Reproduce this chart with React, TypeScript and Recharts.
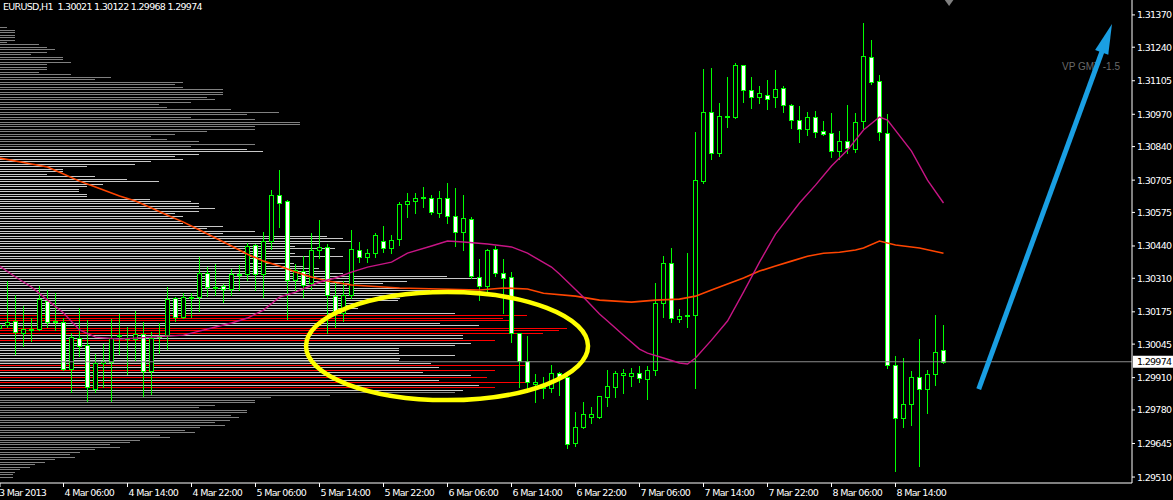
import React from "react";
import {
  Bar,
  BarChart,
  ComposedChart,
  Line,
  ReferenceDot,
  ReferenceLine,
  XAxis,
  YAxis,
} from "recharts";

const W = 1173;
const H = 500;
const AXIS_W = 41;
const AXIS_H = 17;
const PRICE_MIN = 1.29486;
const PRICE_MAX = 1.3143;
const BAR_MIN = 0.0625;
const BAR_MAX = 141.5625;

const FONT = '"DejaVu Sans", sans-serif';
const GREEN = "#00ff00";
const ARROW_BLUE = "#1a9fe3";

const symbolInfo = "EURUSD,H1  1.30021 1.30122 1.29968 1.29974";
const profileName = "VP GMT -1.5";
const bid = 1.29974;

// hourly bars, index 0 = 3 Mar 22:00
const opens = [
  1.30109, 1.30122, 1.30138, 1.30089, 1.30103, 1.30105, 1.30218, 1.30138, 1.30134, 1.29944,
  1.30069, 1.30041, 1.29864, 1.29969, 1.29973, 1.3008, 1.30068, 1.30065, 1.30085, 1.29936,
  1.30076, 1.30081, 1.3023, 1.30154, 1.30232, 1.30234, 1.30331, 1.30274, 1.30279, 1.30266,
  1.30326, 1.30327, 1.30444, 1.30327, 1.3046, 1.30645, 1.30621, 1.30303, 1.30339, 1.30291,
  1.30423, 1.30436, 1.30238, 1.3017, 1.30242, 1.30423, 1.30395, 1.30411, 1.3046, 1.30432,
  1.30468, 1.30609, 1.30621, 1.30636, 1.30633, 1.30572, 1.30633, 1.3056, 1.30496, 1.30548,
  1.30315, 1.30279, 1.30428, 1.30331, 1.30315, 1.30089, 1.29977, 1.29884, 1.29871, 1.29868,
  1.29928, 1.29912, 1.29646, 1.29711, 1.29751, 1.29751, 1.29832, 1.29872, 1.2992, 1.29916,
  1.29928, 1.29904, 1.2994, 1.3021, 1.30371, 1.30146, 1.30161, 1.30162, 1.30701, 1.30979,
  1.30814, 1.30962, 1.30959, 1.31168, 1.31068, 1.31039, 1.31047, 1.31039, 1.31076, 1.31007,
  1.30947, 1.30911, 1.30959, 1.30903, 1.30895, 1.30822, 1.30862, 1.3083, 1.30943, 1.31201,
  1.31104, 1.30895, 1.29961, 1.29747, 1.29803, 1.29912, 1.29864, 1.29924, 1.30021,
];
const highs = [
  1.3013, 1.30299, 1.30242, 1.30198, 1.3015, 1.30279, 1.30262, 1.3025, 1.3015, 1.30089,
  1.3019, 1.30142, 1.30005, 1.30045, 1.30146, 1.30166, 1.30113, 1.30178, 1.30134, 1.30093,
  1.3013, 1.30275, 1.30234, 1.3025, 1.3025, 1.30395, 1.30355, 1.30367, 1.30287, 1.30347,
  1.30363, 1.30452, 1.30448, 1.30496, 1.30665, 1.30746, 1.30625, 1.30367, 1.30399, 1.30492,
  1.30544, 1.30448, 1.30291, 1.30299, 1.30504, 1.30456, 1.30428, 1.30492, 1.3052, 1.30484,
  1.30617, 1.30653, 1.30653, 1.30677, 1.30645, 1.30661, 1.30693, 1.30673, 1.30645, 1.30556,
  1.30387, 1.30428, 1.3044, 1.30387, 1.30335, 1.30091, 1.30077, 1.29924, 1.29912, 1.2996,
  1.29932, 1.29916, 1.29771, 1.29812, 1.29791, 1.29838, 1.2994, 1.29936, 1.29944, 1.29948,
  1.29956, 1.29956, 1.30291, 1.30399, 1.30432, 1.30186, 1.30411, 1.30899, 1.31152, 1.31156,
  1.31015, 1.3112, 1.31176, 1.3117, 1.3112, 1.31084, 1.31108, 1.31148, 1.31084, 1.31011,
  1.31003, 1.30979, 1.30983, 1.30943, 1.30975, 1.30903, 1.31007, 1.30975, 1.31337, 1.31269,
  1.31128, 1.30971, 1.29997, 1.29989, 1.29936, 1.30065, 1.2994, 1.30162, 1.30122,
];
const lows = [
  1.30101, 1.30113, 1.30005, 1.30037, 1.30057, 1.30101, 1.30113, 1.30101, 1.2994, 1.29852,
  1.29997, 1.29816, 1.29852, 1.29872, 1.29816, 1.30005, 1.29924, 1.29981, 1.29836, 1.29844,
  1.30009, 1.30025, 1.30138, 1.3015, 1.30154, 1.30178, 1.30238, 1.30242, 1.30214, 1.30242,
  1.30262, 1.30303, 1.30262, 1.30234, 1.30428, 1.30516, 1.30146, 1.30262, 1.30234, 1.30266,
  1.30391, 1.30089, 1.30113, 1.30138, 1.3023, 1.30375, 1.30375, 1.30395, 1.30415, 1.30411,
  1.30444, 1.30556, 1.30572, 1.30597, 1.30568, 1.30556, 1.30532, 1.3044, 1.30423, 1.30311,
  1.30222, 1.3025, 1.30319, 1.3017, 1.30053, 1.29872, 1.29868, 1.29812, 1.29828, 1.29852,
  1.2984, 1.29626, 1.29634, 1.29709, 1.29727, 1.29749, 1.29795, 1.29832, 1.29848, 1.29876,
  1.29892, 1.29824, 1.2992, 1.30154, 1.30134, 1.30134, 1.30113, 1.29868, 1.30693, 1.3079,
  1.30802, 1.30919, 1.30957, 1.31019, 1.30995, 1.31015, 1.30991, 1.30999, 1.30979, 1.30915,
  1.30858, 1.30886, 1.30878, 1.30886, 1.30798, 1.3079, 1.30814, 1.30818, 1.30915, 1.31092,
  1.30866, 1.29948, 1.29534, 1.29711, 1.29719, 1.29554, 1.29767, 1.2988, 1.29968,
];
const closes = [
  1.30122, 1.30134, 1.30093, 1.30105, 1.30107, 1.30226, 1.30134, 1.30134, 1.29944, 1.30073,
  1.30037, 1.29872, 1.29969, 1.29977, 1.30069, 1.30082, 1.3007, 1.30085, 1.29936, 1.30069,
  1.30078, 1.30226, 1.30154, 1.30234, 1.30236, 1.30331, 1.30275, 1.30276, 1.30266, 1.30327,
  1.30328, 1.3044, 1.30327, 1.3046, 1.30645, 1.30613, 1.30303, 1.30343, 1.30283, 1.30423,
  1.30436, 1.30242, 1.30178, 1.30242, 1.30428, 1.30395, 1.30411, 1.30484, 1.30432, 1.30464,
  1.30609, 1.30621, 1.30633, 1.30638, 1.30576, 1.30633, 1.3056, 1.30496, 1.30552, 1.30319,
  1.30279, 1.30423, 1.30331, 1.30311, 1.30089, 1.29977, 1.29892, 1.29892, 1.29873, 1.29928,
  1.29912, 1.29642, 1.29711, 1.29763, 1.29763, 1.29836, 1.29876, 1.29928, 1.29928, 1.29928,
  1.29908, 1.2994, 1.3021, 1.30371, 1.3015, 1.30158, 1.30163, 1.30705, 1.30979, 1.30814,
  1.30963, 1.30964, 1.31168, 1.31068, 1.31039, 1.31056, 1.31031, 1.31072, 1.31007, 1.30947,
  1.30911, 1.30959, 1.30899, 1.30891, 1.30822, 1.30862, 1.30834, 1.30939, 1.31205, 1.311,
  1.30899, 1.29961, 1.29747, 1.29803, 1.29912, 1.29864, 1.29924, 1.30013, 1.29974,
];

// [bar index, value]
const fastMa: [number, number][] = [
  [0, 1.30359], [2, 1.30315], [4, 1.30275], [6, 1.30222], [8, 1.3017], [10, 1.30102],
  [12, 1.30073], [15, 1.30065], [19, 1.30073], [23, 1.30081], [27, 1.30114], [29, 1.3013],
  [31, 1.3015], [33, 1.30182], [35, 1.30234], [37, 1.30254], [40, 1.30295], [42, 1.30311],
  [44, 1.30335], [46, 1.30355], [49, 1.30375], [51, 1.30411], [54, 1.3044], [56, 1.3046],
  [58, 1.30456], [61, 1.30448], [64, 1.30436], [66, 1.30411], [69, 1.30355], [70, 1.30327],
  [73, 1.30234], [75, 1.30166], [76, 1.30138], [78, 1.30081], [80, 1.30025], [81, 1.30009],
  [83, 1.29989], [85, 1.29969], [86, 1.29965], [87, 1.29989], [89, 1.30061], [91, 1.30138],
  [93, 1.30254], [95, 1.30375], [97, 1.30488], [100, 1.30613], [102, 1.30685], [104, 1.30762],
  [106, 1.30826], [108, 1.30907], [110, 1.30959], [111, 1.30947], [114, 1.30822], [116, 1.30705],
  [118, 1.30613],
];
const slowMa: [number, number][] = [
  [0, 1.30794], [4, 1.3077], [6, 1.30758], [8, 1.3073], [10, 1.30701], [12, 1.30677],
  [15, 1.30641], [17, 1.30621], [19, 1.30593], [21, 1.30564], [23, 1.30536], [25, 1.30504],
  [27, 1.30472], [29, 1.3044], [31, 1.30407], [33, 1.30379], [35, 1.30359], [37, 1.30335],
  [39, 1.30315], [41, 1.30299], [44, 1.30283], [50, 1.30271], [55, 1.30267], [60, 1.30263],
  [63, 1.30271], [66, 1.30267], [68, 1.3025], [72, 1.30238], [75, 1.30222], [79, 1.30214],
  [82, 1.30222], [85, 1.30226], [87, 1.30238], [89, 1.30263], [91, 1.30287], [93, 1.30311],
  [95, 1.30339], [97, 1.30359], [99, 1.30379], [101, 1.30399], [103, 1.30411], [105, 1.30415],
  [107, 1.30424], [108, 1.30432], [110, 1.3046], [112, 1.30444], [115, 1.30432], [118, 1.30411],
];

const priceTicks = [
  1.3137, 1.3124, 1.31105, 1.3097, 1.3084, 1.30705, 1.30575, 1.3044, 1.3031, 1.30175,
  1.30045, 1.2991, 1.2978, 1.29645, 1.2951,
];
const timeTicks = [BAR_MIN, 8, 16, 24, 32, 40, 48, 56, 64, 72, 80, 88, 96, 104, 112];
const timeLabels = [
  "3 Mar 2013", "4 Mar 06:00", "4 Mar 14:00", "4 Mar 22:00", "5 Mar 06:00", "5 Mar 14:00",
  "5 Mar 22:00", "6 Mar 06:00", "6 Mar 14:00", "6 Mar 22:00", "7 Mar 06:00", "7 Mar 14:00",
  "7 Mar 22:00", "8 Mar 06:00", "8 Mar 14:00",
];

// volume profile, one row per pip from 1.3132 down
const profileTop = 1.3132;
const profileVolumes = [
  7, 15, 15, 15, 15, 15, 7, 39, 47, 55,
  47, 31, 63, 63, 71, 47, 47, 47, 39, 71,
  111, 95, 183, 175, 183, 223, 223, 223, 207, 215,
  191, 159, 167, 231, 279, 247, 191, 255, 300, 300,
  255, 255, 207, 175, 151, 167, 199, 255, 191, 247,
  263, 199, 175, 183, 151, 135, 87, 63, 63, 47,
  95, 127, 159, 103, 87, 79, 79, 87, 87, 150,
  191, 199, 199, 215, 199, 175, 183, 175, 183, 183,
  223, 207, 255, 223, 327, 343, 352, 319, 295, 335,
  287, 295, 343, 287, 247, 294, 303, 319, 327, 343,
  447, 478, 407, 383, 347, 418, 430, 400, 385, 400,
  398, 355, 360, 358, 335, 455, 527, 503, 510, 440,
  479, 567, 559, 543, 463, 463, 495, 471, 455, 399,
  399, 399, 455, 400, 399, 431, 525, 439, 495, 423,
  471, 487, 439, 525, 479, 495, 463, 455, 330, 271,
  255, 255, 215, 199, 247, 247, 231, 239, 230, 215,
  225, 200, 185, 195, 160, 170, 140, 130, 110, 120,
  95, 80, 70, 75, 55, 45, 35, 30, 20, 15,
  13, 13,
];
const redLevels = [
  1.3016, 1.3015, 1.3014, 1.3011, 1.301, 1.3009, 1.3006, 1.2996, 1.2994, 1.2991, 1.2989, 1.2987,
];
const valueAreaHigh = 1.3083;
const valueAreaLow = 1.2986;

const candles = opens.map((open, i) => ({
  i,
  open,
  high: highs[i],
  low: lows[i],
  close: closes[i],
}));
const fastData = fastMa.map(([i, v]) => ({ i, v }));
const slowData = slowMa.map(([i, v]) => ({ i, v }));
const profile = profileVolumes.map((vol, k) => ({
  price: +(profileTop - k * 0.0001).toFixed(4),
  vol,
}));

function profileColor(price: number) {
  if (redLevels.some((r) => Math.abs(r - price) < 1e-6)) return "#ff0000";
  if (price <= valueAreaHigh + 1e-6 && price >= valueAreaLow - 1e-6) return "#c8c8c8";
  return "#808080";
}

const ProfileRow = (props: any) => {
  const { x, y, width, height, payload } = props;
  if (x == null || !payload) return null;
  const yc = Math.floor(y + height / 2);
  return <rect x={x} y={yc} width={Math.max(width, 0)} height={1} fill={profileColor(payload.price)} />;
};

const Candle = (props: any) => {
  const { x, y, width, height, payload } = props;
  if (x == null || !payload) return null;
  const top = Math.min(y, y + height);
  const h = Math.abs(height);
  const { open, high, low, close } = payload;
  const span = high - low;
  const toY = (p: number) => (span > 0 ? top + ((high - p) / span) * h : top);
  const cx = Math.round(x + width / 2 - 0.5) + 0.5;
  const bTop = Math.round(toY(Math.max(open, close))) + 0.5;
  const bBot = Math.round(toY(Math.min(open, close))) + 0.5;
  const bear = close < open;
  return (
    <g>
      <line x1={cx} x2={cx} y1={Math.round(top)} y2={Math.round(top + h) + 1} stroke={GREEN} strokeWidth={1} />
      <rect
        x={cx - 2}
        y={bTop}
        width={4}
        height={Math.max(bBot - bTop, 1)}
        fill={bBot - bTop < 1 ? GREEN : bear ? "#ffffff" : "#000000"}
        stroke={GREEN}
        strokeWidth={1}
      />
    </g>
  );
};

const PriceTick = (props: any) => {
  const { x, y, payload } = props;
  return (
    <text x={x} y={y} dy={3.5} fill="#ffffff" fontSize={9.5} fontFamily={FONT} letterSpacing={-0.7} textAnchor="start">
      {Number(payload.value).toFixed(5)}
    </text>
  );
};

const TimeTick = (props: any) => {
  const { x, y, payload } = props;
  const idx = timeTicks.indexOf(payload.value);
  return (
    <text x={idx === 0 ? x - 1 : x + 1} y={y + 7} fill="#ffffff" fontSize={9.5} fontFamily={FONT} letterSpacing={-0.7} textAnchor="start">
      {timeLabels[idx]}
    </text>
  );
};

const BidTag = (props: any) => {
  const vb = props.viewBox || {};
  const x = (vb.x || 0) + (vb.width || 0) + 1;
  const y = vb.y || 0;
  return (
    <g>
      <rect x={x} y={y - 6} width={W - x} height={12} fill="#ffffff" />
      <text x={x + 4} y={y + 3.5} fill="#000000" fontSize={9.5} fontFamily={FONT} letterSpacing={-0.7}>
        {bid.toFixed(5)}
      </text>
    </g>
  );
};

const Ellipse = (props: any) => (
  <ellipse cx={props.cx} cy={props.cy} rx={141} ry={54} fill="none" stroke="#ffff00" strokeWidth={4.5} />
);

const Marker = (props: any) => (
  <polygon
    points={`${props.cx - 5},${props.cy - 3} ${props.cx + 5},${props.cy - 3} ${props.cx},${props.cy + 4}`}
    fill="#7f7f7f"
  />
);

const Arrow = (props: any) => {
  const { x1, y1, x2, y2 } = props;
  const len = Math.hypot(x2 - x1, y2 - y1) || 1;
  const ux = (x2 - x1) / len;
  const uy = (y2 - y1) / len;
  const bx = x2 - ux * 30;
  const by = y2 - uy * 30;
  const px = -uy;
  const py = ux;
  return (
    <g>
      <line x1={x1} y1={y1} x2={bx + ux * 4} y2={by + uy * 4} stroke={ARROW_BLUE} strokeWidth={5} />
      <polygon
        points={`${x2},${y2} ${bx + px * 7},${by + py * 7} ${bx - px * 7},${by - py * 7}`}
        fill={ARROW_BLUE}
      />
    </g>
  );
};

export default function App() {
  const layer: React.CSSProperties = { position: "absolute", left: 0, top: 0 };
  return (
    <div style={{ position: "absolute", left: 0, top: 0, width: W, height: H, background: "#000", overflow: "hidden" }}>
      <div style={layer}>
        <BarChart
          layout="vertical"
          width={W}
          height={H}
          data={profile}
          margin={{ top: 0, right: AXIS_W, bottom: AXIS_H, left: 0 }}
        >
          <XAxis type="number" domain={[0, W - AXIS_W]} hide allowDataOverflow />
          <YAxis type="number" dataKey="price" domain={[PRICE_MIN, PRICE_MAX]} reversed hide allowDataOverflow />
          <Bar dataKey="vol" barSize={1} isAnimationActive={false} shape={<ProfileRow />} />
        </BarChart>
      </div>

      <div style={{ ...layer, left: 3, top: 1, color: "#fff", fontFamily: FONT, fontSize: 9.5, letterSpacing: -0.7, lineHeight: "12px", whiteSpace: "pre" }}>
        {symbolInfo}
      </div>
      <div style={{ ...layer, left: 1062, top: 61, color: "#6a6a6a", fontFamily: '"Liberation Sans", Arial, sans-serif', fontSize: 10, lineHeight: "12px", whiteSpace: "pre" }}>
        {profileName}
      </div>

      <div style={layer}>
        <ComposedChart width={W} height={H} data={candles} margin={{ top: 0, right: 0, bottom: 0, left: 0 }}>
          <XAxis
            type="number"
            dataKey="i"
            domain={[BAR_MIN, BAR_MAX]}
            ticks={timeTicks}
            interval={0}
            height={AXIS_H}
            allowDataOverflow
            axisLine={{ stroke: "#ffffff" }}
            tickLine={{ stroke: "#ffffff" }}
            tickSize={4}
            tick={<TimeTick />}
          />
          <YAxis
            orientation="right"
            type="number"
            domain={[PRICE_MIN, PRICE_MAX]}
            ticks={priceTicks}
            interval={0}
            width={AXIS_W}
            allowDataOverflow
            axisLine={{ stroke: "#ffffff" }}
            tickLine={{ stroke: "#ffffff" }}
            tickSize={3}
            tick={<PriceTick />}
          />
          <ReferenceLine y={bid} stroke="#8c8c8c" strokeWidth={1} label={(p: any) => <BidTag {...p} />} />
          <Bar dataKey={(d: any) => [d.low, d.high]} barSize={5} isAnimationActive={false} shape={<Candle />} />
          <Line data={slowData} dataKey="v" type="linear" stroke="#ff4500" strokeWidth={1.6} dot={false} activeDot={false} isAnimationActive={false} />
          <Line data={fastData} dataKey="v" type="linear" stroke="#c71585" strokeWidth={1.4} dot={false} activeDot={false} isAnimationActive={false} />
          <ReferenceDot x={55.94} y={1.30037} r={0} ifOverflow="visible" shape={<Ellipse />} />
          <ReferenceDot x={118.7} y={1.31422} r={0} ifOverflow="visible" shape={<Marker />} />
          <ReferenceLine
            segment={[{ x: 122.4, y: 1.29864 }, { x: 139.06, y: 1.31333 }]}
            ifOverflow="visible"
            shape={(p: any) => <Arrow {...p} />}
          />
        </ComposedChart>
      </div>
    </div>
  );
}
